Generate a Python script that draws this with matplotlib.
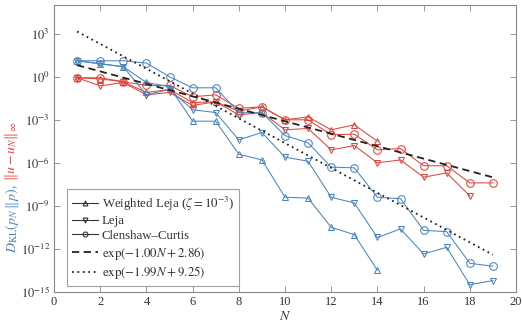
import numpy as np
import matplotlib
matplotlib.use('Agg')
import matplotlib.pyplot as plt
from matplotlib.lines import Line2D
from matplotlib.ticker import FixedLocator, NullLocator

plt.rcParams['font.family'] = ['Liberation Serif', 'DejaVu Serif']
plt.rcParams['mathtext.fontset'] = 'stix'

# Data (N on x, log-scale errors on y)
n_full = np.arange(1, 20)
n_short = np.arange(1, 15)
n_leja = np.arange(1, 19)

# KL divergence D_KL(p_N || p) -- blue
dkl_wleja = [13, 8, 5, 0.4, 0.2, 8e-4, 8e-4, 4e-6, 1.6e-6, 4e-9, 3.5e-9,
             3.2e-11, 1e-11, 3.2e-14]
dkl_leja = [13, 8, 5, 5.5e-2, 0.13, 5e-3, 3.2e-3, 4e-5, 1.3e-4, 2.5e-6, 1.3e-6,
            4e-9, 1.6e-9, 6.3e-12, 2.5e-11, 4.5e-13, 1.3e-12, 3.2e-15, 6.3e-15]
dkl_cc = [13, 13, 13, 9, 1.0, 0.17, 0.17, 3.1e-3, 3.1e-3, 8e-5, 2.5e-5, 5e-7,
          4.5e-7, 4e-9, 3.2e-9, 2e-11, 1.6e-11, 1e-13, 6.3e-14]

# Sup-norm error ||u - u_N||_inf -- red
err_wleja = [0.85, 0.7, 0.45, 0.08, 0.13, 0.016, 0.018, 4e-3, 8e-3, 1e-3, 1.6e-3,
             2e-4, 4.5e-4, 3.2e-5]
err_leja = [0.85, 0.23, 0.4, 0.055, 0.08, 0.01, 0.018, 2.2e-3, 3.2e-3, 2e-4,
            2.5e-4, 8e-6, 1.6e-5, 1e-6, 1.6e-6, 1e-7, 2e-7, 5e-9]
err_cc = [0.85, 0.85, 0.45, 0.25, 0.25, 0.04, 0.055, 6.3e-3, 8e-3, 1e-3, 1e-3,
          9e-5, 1e-4, 8e-6, 1e-5, 6.3e-7, 6.3e-7, 4e-8, 4e-8]

# exponential fits exp(a*N + b)
fit_slow = (-1.00, 2.86)
fit_fast = (-1.99, 9.25)

blue = '#4a85bf'
red = '#e0453b'

fig = plt.figure(figsize=(5.22, 3.26), dpi=100)
ax = fig.add_axes([54 / 522, 1 - 292 / 326, 462 / 522, 287 / 326])

style = dict(lw=0.75, mfc='none', mew=0.75)
series = [(red, err_wleja, err_leja, err_cc), (blue, dkl_wleja, dkl_leja, dkl_cc)]
for col, wl, lj, cc in series:
    ax.plot(n_short, wl, color=col, marker='^', ms=4, **style)
    ax.plot(n_full[:len(lj)], lj, color=col, marker='v', ms=4, **style)
    ax.plot(n_full, cc, color=col, marker='o', ms=5.5, **style)

ax.plot(n_full, np.exp(fit_slow[0] * n_full + fit_slow[1]),
        color='#222222', ls=(0, (4, 2.5)), lw=1.3)
ax.plot(n_full, np.exp(fit_fast[0] * n_full + fit_fast[1]),
        color='#222222', ls=(0, (1, 2)), lw=1.3)

ax.set_yscale('log')
ax.set_xlim(0, 20)
ax.set_ylim(1e-15, 1e5)
ax.set_xticks(range(0, 21, 2))
ax.yaxis.set_major_locator(FixedLocator([10.0 ** k for k in range(-15, 4, 3)]))
ax.yaxis.set_minor_locator(NullLocator())
ax.set_yticklabels([r'$10^{%d}$' % k for k in range(-15, 4, 3)])
ax.tick_params(direction='in', top=True, right=True, length=4, width=0.6,
               color='#888888', labelsize=9, labelcolor='#333333', pad=3)
for s in ax.spines.values():
    s.set_color('#888888')
    s.set_linewidth(0.8)
ax.set_xlabel(r'$N$', fontsize=10, color='#333333', labelpad=1)

handles = [
    Line2D([], [], color='#333333', lw=0.8, marker='^', ms=3.5, mfc='none', mew=0.8),
    Line2D([], [], color='#333333', lw=0.8, marker='v', ms=3.5, mfc='none', mew=0.8),
    Line2D([], [], color='#333333', lw=0.8, marker='o', ms=3.5, mfc='none', mew=0.8),
    Line2D([], [], color='#222222', lw=1.3, ls=(0, (4, 2.5))),
    Line2D([], [], color='#222222', lw=1.3, ls=(0, (1, 2))),
]
labels = [r'Weighted Leja ($\zeta = 10^{-3}$)', 'Leja', 'Clenshaw–Curtis',
          r'$\exp(-1.00N + 2.86)$', r'$\exp(-1.99N + 9.25)$']
leg = ax.legend(handles, labels, loc='lower left', bbox_to_anchor=(0.028, 0.02),
                fontsize=9.3, frameon=True, fancybox=False, handlelength=2.0,
                handletextpad=0.3, labelspacing=0.2, borderpad=0.4,
                borderaxespad=0)
leg.get_frame().set_edgecolor('#888888')
leg.get_frame().set_linewidth(0.8)
for t in leg.get_texts():
    t.set_color('#333333')

# two-colour y label
fig.canvas.draw()
r = fig.canvas.get_renderer()
t1 = fig.text(12 / 522, 1 - 253 / 326, r'$D_{\mathrm{KL}}(p_N\,\|\,p)$,',
              rotation=90, color=blue, fontsize=10, ha='center', va='bottom')
bb = t1.get_window_extent(r).transformed(fig.transFigure.inverted())
fig.text(12 / 522, bb.y1 + 0.008, r'$\|u - u_N\|_\infty$', rotation=90,
         color=red, fontsize=10, ha='center', va='bottom')

fig.savefig('out.png', dpi=100)
